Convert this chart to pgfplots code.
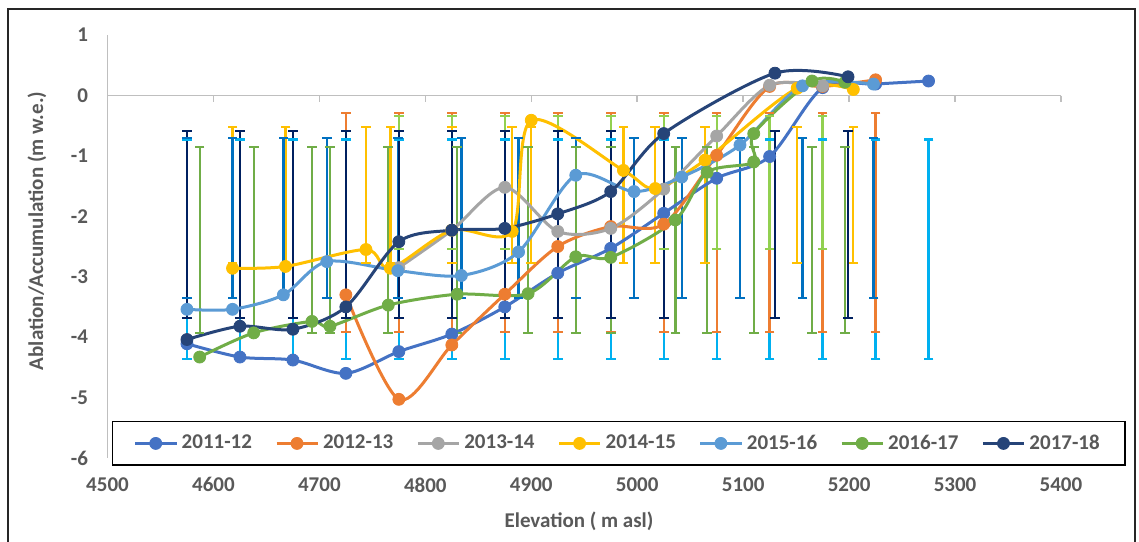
\documentclass[border=0pt]{standalone}
\usepackage{fontspec}
\setmainfont{Carlito}
\usepackage{pgfplots}
\pgfplotsset{compat=1.18}
\definecolor{s1}{HTML}{4472C4}
\definecolor{s2}{HTML}{ED7D31}
\definecolor{s3}{HTML}{A5A5A5}
\definecolor{s4}{HTML}{FFC000}
\definecolor{s5}{HTML}{5B9BD5}
\definecolor{s6}{HTML}{70AD47}
\definecolor{s7}{HTML}{264478}
\definecolor{e1}{HTML}{00B0F0}
\definecolor{e3}{HTML}{92D050}
\definecolor{e5}{HTML}{0070C0}
\definecolor{e7}{HTML}{002060}
\definecolor{txt}{HTML}{595959}
\definecolor{axg}{HTML}{BFBFBF}
\pgfplotsset{
  ser/.style={color=#1, line width=1.5pt, smooth, mark=*, mark size=3pt,
    mark options={solid, fill=#1, draw=#1, line width=0.4pt}},
  eb/.style={color=#1, line width=1.15pt, mark=-, mark size=2.4pt,
    mark options={solid, line width=1.15pt}, unbounded coords=jump, forget plot},
}
\begin{document}
\begin{tikzpicture}
\useasboundingbox (0,0) rectangle (569.5pt,-270.5pt);
\fill[white] (0,0) rectangle (569.5pt,-270.5pt);
\draw[line width=0.9pt, black!85] (4pt,-4.5pt) rectangle (567.5pt,-280pt);
\begin{axis}[
  at={(53.75pt,-228.95pt)}, anchor=south west,
  scale only axis, width=476.75pt, height=211.4pt,
  xmin=4500, xmax=5400, ymin=-6, ymax=1,
  clip=false,
  axis lines*=left,
  x axis line style={draw=none},
  y axis line style={draw=axg, line width=0.75pt},
  major tick length=0pt,
  tick style={draw=none},
  xtick={4500,4600,4700,4800,4900,5000,5100,5200,5300,5400},
  xticklabels={\textbf{4500},\textbf{4600},\textbf{4700},\textbf{4800},\textbf{4900},\textbf{5000},\textbf{5100},\textbf{5200},\textbf{5300},\textbf{5400}},
  ytick={-6,-5,-4,-3,-2,-1,0,1},
  yticklabels={\textbf{-6},\textbf{-5},\textbf{-4},\textbf{-3},\textbf{-2},\textbf{-1},\textbf{0},\textbf{1}},
  tick label style={font=\fontsize{10.5}{12.6}\selectfont, text=txt},
  xticklabel style={anchor=north, yshift=-6.3pt},
  yticklabel style={anchor=east, xshift=-6.2pt},
  xlabel={\textbf{Elevation ( m asl)}},
  ylabel={\textbf{Ablation/Accumulation (m w.e.)}},
  every axis x label/.style={at={(axis description cs:0.4945,-0.151)}, anchor=center,
    font=\fontsize{10.5}{12.6}\selectfont, text=txt},
  every axis y label/.style={at={(axis description cs:-0.074,0.537)}, anchor=center, rotate=90,
    font=\fontsize{10.5}{12.6}\selectfont, text=txt},
  legend columns=7,
  legend style={at={(axis description cs:0.0047,0.0875)}, anchor=north west,
    draw=black, line width=0.75pt, fill=white,
    inner xsep=10.5pt, inner ysep=4.5pt,
    font=\fontsize{10.5}{12.6}\selectfont\bfseries, text=txt,
    nodes={inner xsep=2pt, inner ysep=2pt},
    /tikz/every even column/.append style={column sep=9.5pt}},
  legend image code/.code={\draw[mark repeat=2,mark phase=2,line width=1.5pt]
    plot coordinates {(0pt,0pt) (10.25pt,0pt) (20.5pt,0pt)};},
]
% zero line with ticks
\draw[axg, line width=0.75pt] (axis cs:4500,0) -- (axis cs:5400,0);
\draw[axg, line width=0.75pt] (axis cs:4600,0) -- (axis cs:4600,-0.115);
\draw[axg, line width=0.75pt] (axis cs:4700,0) -- (axis cs:4700,-0.115);
\draw[axg, line width=0.75pt] (axis cs:4800,0) -- (axis cs:4800,-0.115);
\draw[axg, line width=0.75pt] (axis cs:4900,0) -- (axis cs:4900,-0.115);
\draw[axg, line width=0.75pt] (axis cs:5000,0) -- (axis cs:5000,-0.115);
\draw[axg, line width=0.75pt] (axis cs:5100,0) -- (axis cs:5100,-0.115);
\draw[axg, line width=0.75pt] (axis cs:5200,0) -- (axis cs:5200,-0.115);
\draw[axg, line width=0.75pt] (axis cs:5300,0) -- (axis cs:5300,-0.115);
\draw[axg, line width=0.75pt] (axis cs:5400,0) -- (axis cs:5400,-0.115);
% ---------- error bars (top, bottom, gap) ----------
\addplot[eb=e1] coordinates {
 (4575,-0.726) (4575,-4.368) (4575,nan) (4625,-0.726) (4625,-4.368) (4625,nan)
 (4675,-0.726) (4675,-4.368) (4675,nan) (4725,-0.726) (4725,-4.368) (4725,nan)
 (4775,-0.726) (4775,-4.368) (4775,nan) (4825,-0.726) (4825,-4.368) (4825,nan)
 (4875,-0.726) (4875,-4.368) (4875,nan) (4925,-0.726) (4925,-4.368) (4925,nan)
 (4975,-0.726) (4975,-4.368) (4975,nan) (5025,-0.726) (5025,-4.368) (5025,nan)
 (5075,-0.726) (5075,-4.368) (5075,nan) (5125,-0.726) (5125,-4.368) (5125,nan)
 (5175,-0.726) (5175,-4.368) (5175,nan) (5225,-0.726) (5225,-4.368) (5225,nan)
 (5275,-0.726) (5275,-4.368)};
\addplot[eb=s2] coordinates {
 (4725,-0.295) (4725,-3.910) (4725,nan) (4775,-0.295) (4775,-3.910) (4775,nan)
 (4825,-0.295) (4825,-3.910) (4825,nan) (4875,-0.295) (4875,-3.910) (4875,nan)
 (4925,-0.295) (4925,-3.910) (4925,nan) (4975,-0.295) (4975,-3.910) (4975,nan)
 (5025,-0.295) (5025,-3.910) (5025,nan) (5075,-0.295) (5075,-3.910) (5075,nan)
 (5125,-0.295) (5125,-3.910) (5125,nan) (5175,-0.295) (5175,-3.910) (5175,nan)
 (5225,-0.295) (5225,-3.910)};
\addplot[eb=e3] coordinates {
 (4775,-0.334) (4775,-2.541) (4775,nan) (4825,-0.334) (4825,-2.541) (4825,nan)
 (4875,-0.334) (4875,-2.541) (4875,nan) (4925,-0.334) (4925,-2.541) (4925,nan)
 (4975,-0.334) (4975,-2.541) (4975,nan) (5025,-0.334) (5025,-2.541) (5025,nan)
 (5075,-0.334) (5075,-2.541) (5075,nan) (5125,-0.334) (5125,-2.541) (5125,nan)
 (5175,-0.334) (5175,-2.541)};
\addplot[eb=s4] coordinates {
 (4618,-0.516) (4618,-2.768) (4618,nan) (4668,-0.516) (4668,-2.768) (4668,nan)
 (4744,-0.516) (4744,-2.768) (4744,nan) (4767,-0.516) (4767,-2.768) (4767,nan)
 (4825,-0.516) (4825,-2.768) (4825,nan) (4882,-0.516) (4882,-2.768) (4882,nan)
 (4900,-0.516) (4900,-2.768) (4900,nan) (4987,-0.516) (4987,-2.768) (4987,nan)
 (5017,-0.516) (5017,-2.768) (5017,nan) (5064,-0.516) (5064,-2.768) (5064,nan)
 (5151,-0.516) (5151,-2.768) (5151,nan) (5204,-0.516) (5204,-2.768)};
\addplot[eb=e5] coordinates {
 (4575,-0.709) (4575,-3.347) (4575,nan) (4618,-0.709) (4618,-3.347) (4618,nan)
 (4666,-0.709) (4666,-3.347) (4666,nan) (4707,-0.709) (4707,-3.347) (4707,nan)
 (4774,-0.709) (4774,-3.347) (4774,nan) (4834,-0.709) (4834,-3.347) (4834,nan)
 (4888,-0.709) (4888,-3.347) (4888,nan) (4942,-0.709) (4942,-3.347) (4942,nan)
 (4997,-0.709) (4997,-3.347) (4997,nan) (5042,-0.709) (5042,-3.347) (5042,nan)
 (5097,-0.709) (5097,-3.347) (5097,nan) (5156,-0.709) (5156,-3.347) (5156,nan)
 (5223,-0.709) (5223,-3.347)};
\addplot[eb=s6] coordinates {
 (4587,-0.853) (4587,-3.927) (4587,nan) (4638,-0.853) (4638,-3.927) (4638,nan)
 (4693,-0.853) (4693,-3.927) (4693,nan) (4710,-0.853) (4710,-3.927) (4710,nan)
 (4765,-0.853) (4765,-3.927) (4765,nan) (4830,-0.853) (4830,-3.927) (4830,nan)
 (4897,-0.853) (4897,-3.927) (4897,nan) (4942,-0.853) (4942,-3.927) (4942,nan)
 (4975,-0.853) (4975,-3.927) (4975,nan) (5036,-0.853) (5036,-3.927) (5036,nan)
 (5066,-0.853) (5066,-3.927) (5066,nan) (5110,-0.853) (5110,-3.927) (5110,nan)
 (5165,-0.853) (5165,-3.927) (5165,nan) (5196,-0.853) (5196,-3.927)};
\addplot[eb=e7] coordinates {
 (4575,-0.582) (4575,-3.678) (4575,nan) (4625,-0.582) (4625,-3.678) (4625,nan)
 (4675,-0.582) (4675,-3.678) (4675,nan) (4725,-0.582) (4725,-3.678) (4725,nan)
 (4775,-0.582) (4775,-3.678) (4775,nan) (4825,-0.582) (4825,-3.678) (4825,nan)
 (4875,-0.582) (4875,-3.678) (4875,nan) (4925,-0.582) (4925,-3.678) (4925,nan)
 (4975,-0.582) (4975,-3.678) (4975,nan) (5025,-0.582) (5025,-3.678) (5025,nan)
 (5130,-0.582) (5130,-3.678) (5130,nan) (5199,-0.582) (5199,-3.678)};
% ---------- series ----------
\addplot[ser=s1] coordinates {
 (4575,-4.11) (4625,-4.33) (4675,-4.38) (4725,-4.60) (4775,-4.24)
 (4825,-3.95) (4875,-3.50) (4925,-2.94) (4975,-2.53) (5025,-1.95)
 (5075,-1.37) (5125,-1.01) (5175,0.13) (5225,0.19) (5275,0.24)};
\addlegendentry{2011-12}
\addplot[ser=s2] coordinates {
 (4725,-3.30) (4775,-5.03) (4825,-4.13) (4875,-3.29) (4925,-2.50)
 (4975,-2.17) (5025,-2.13) (5075,-0.99) (5125,0.15) (5175,0.15) (5225,0.26)};
\addlegendentry{2012-13}
\addplot[ser=s3] coordinates {
 (4775,-2.85) (4825,-2.23) (4875,-1.52) (4925,-2.25) (4975,-2.20)
 (5025,-1.55) (5075,-0.67) (5125,0.17) (5175,0.16)};
\addlegendentry{2013-14}
\addplot[ser=s4] coordinates {
 (4618,-2.86) (4668,-2.83) (4744,-2.55) (4767,-2.86) (4825,-2.23)
 (4882,-2.25) (4900,-0.41) (4987,-1.24) (5017,-1.54) (5064,-1.07)
 (5151,0.12) (5204,0.10)};
\addlegendentry{2014-15}
\addplot[ser=s5] coordinates {
 (4575,-3.54) (4618,-3.54) (4666,-3.30) (4707,-2.75) (4774,-2.90)
 (4834,-2.98) (4888,-2.59) (4942,-1.32) (4997,-1.59) (5042,-1.35)
 (5097,-0.82) (5156,0.16) (5223,0.19)};
\addlegendentry{2015-16}
\addplot[ser=s6] coordinates {
 (4587,-4.33) (4638,-3.93) (4693,-3.74) (4710,-3.82) (4765,-3.47)
 (4830,-3.29) (4897,-3.28) (4942,-2.67) (4975,-2.68) (5036,-2.06)
 (5066,-1.27) (5110,-1.10) (5110,-0.63) (5165,0.24) (5196,0.22)};
\addlegendentry{2016-17}
\addplot[ser=s7] coordinates {
 (4575,-4.04) (4625,-3.82) (4675,-3.87) (4725,-3.50) (4775,-2.42)
 (4825,-2.23) (4875,-2.20) (4925,-1.96) (4975,-1.59) (5025,-0.63)
 (5130,0.37) (5199,0.31)};
\addlegendentry{2017-18}
\end{axis}
\end{tikzpicture}
\end{document}
